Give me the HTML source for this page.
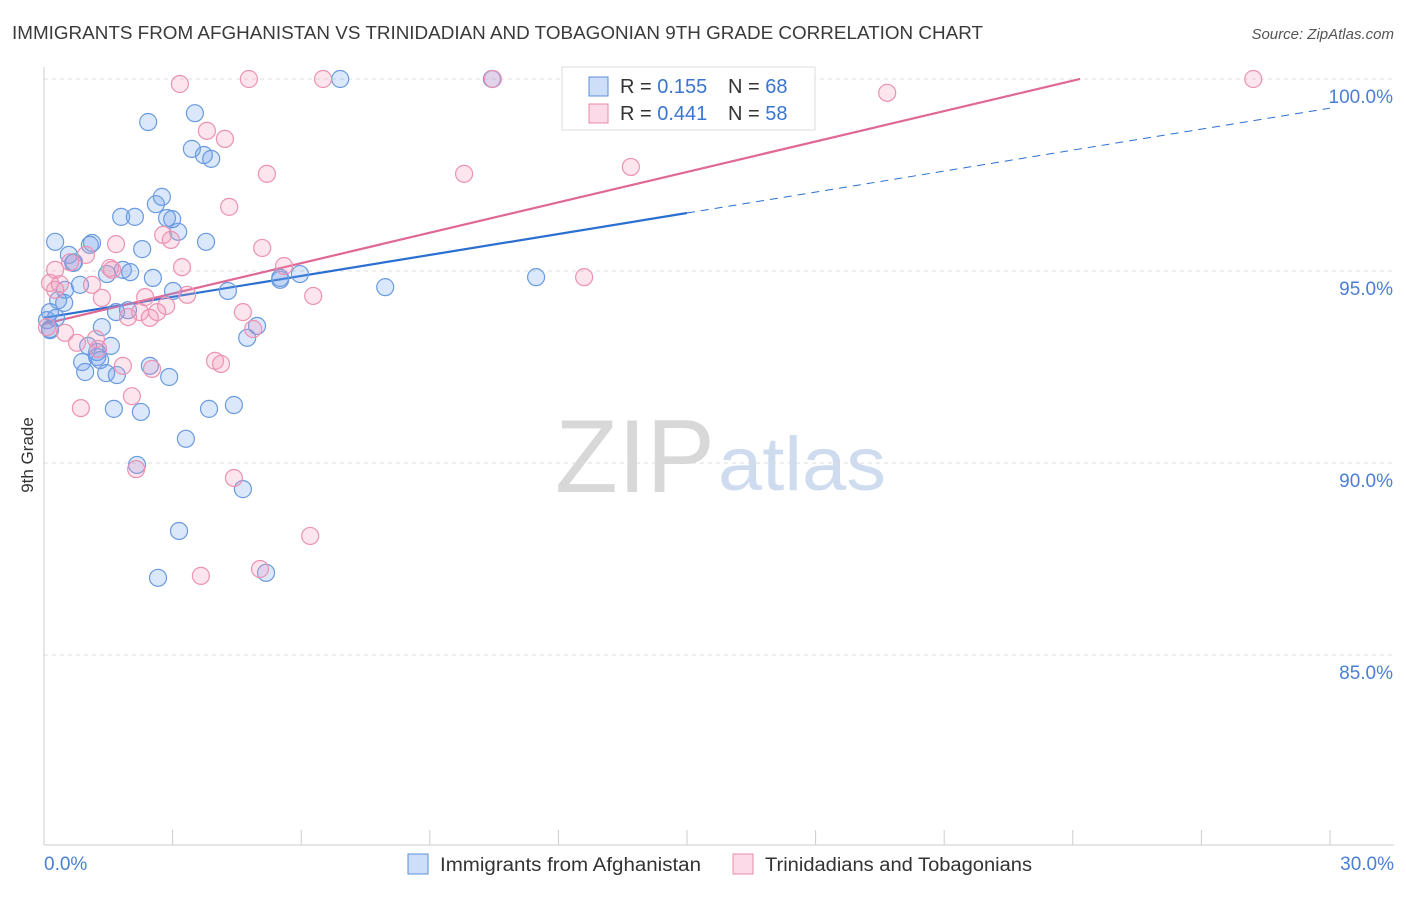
<!DOCTYPE html>
<html><head><meta charset="utf-8"><style>
body{margin:0;background:#fff;font-family:"Liberation Sans",sans-serif;}
svg text{font-family:"Liberation Sans",sans-serif;}
</style></head><body>
<svg id="chart" width="1406" height="892" viewBox="0 0 1406 892" xmlns="http://www.w3.org/2000/svg">
<text x="12" y="39" font-size="18" fill="#3a3a3a" textLength="971" lengthAdjust="spacingAndGlyphs">IMMIGRANTS FROM AFGHANISTAN VS TRINIDADIAN AND TOBAGONIAN 9TH GRADE CORRELATION CHART</text>
<text x="1394" y="39" font-size="15" fill="#555" text-anchor="end" font-style="italic">Source: ZipAtlas.com</text>
<g>
<text x="555" y="492" font-size="104" fill="#d8d8d8" font-family="Liberation Serif, serif" textLength="160" lengthAdjust="spacingAndGlyphs">ZIP</text>
<text x="718" y="490" font-size="76" fill="#cfdcf0" textLength="168" lengthAdjust="spacingAndGlyphs">atlas</text>
</g>
<g id="grid"></g>
<g id="axes"></g>
<g id="lines"></g>
<g id="points"></g>
<text transform="translate(33,455) rotate(-90)" font-size="17" fill="#333" text-anchor="middle">9th Grade</text>
<g>
<rect x="562" y="67" width="253" height="63" fill="#fff" stroke="#ddd"/>
<rect x="589" y="77" width="19" height="19" fill="rgba(110,160,235,0.35)" stroke="#5b8fd8"/>
<rect x="589" y="104" width="19" height="19" fill="rgba(245,150,185,0.35)" stroke="#e88aaa"/>
<text x="620" y="93" font-size="20" fill="#333">R = <tspan fill="#3a75d0">0.155</tspan><tspan x="728">N = </tspan><tspan fill="#3a75d0">68</tspan></text>
<text x="620" y="120" font-size="20" fill="#333">R = <tspan fill="#3a75d0">0.441</tspan><tspan x="728">N = </tspan><tspan fill="#3a75d0">58</tspan></text>
</g>
<g>
<rect x="408" y="854" width="20" height="20" fill="rgba(110,160,235,0.35)" stroke="#5b8fd8"/>
<text x="440" y="871" font-size="19" fill="#333" textLength="261" lengthAdjust="spacingAndGlyphs">Immigrants from Afghanistan</text>
<rect x="733" y="854" width="20" height="20" fill="rgba(245,150,185,0.35)" stroke="#e88aaa"/>
<text x="765" y="871" font-size="19" fill="#333" textLength="267" lengthAdjust="spacingAndGlyphs">Trinidadians and Tobagonians</text>
</g>
</svg>
<script>
const yTicks=[85,90,95,100];
const yTickLabels=["85.0%","90.0%","95.0%","100.0%"];
const xTickLabels=["0.0%","30.0%"];
const blueX=[6.91,10.45,2.43,3.52,3.45,3.73,3.90,2.75,2.61,1.80,2.12,2.87,2.99,3.13,0.26,1.12,1.07,2.29,3.78,0.58,0.70,0.68,2.54,1.84,1.47,0.84,0.49,0.33,0.47,0.14,0.07,0.14,1.35,1.68,1.96,3.01,4.29,5.97,5.51,7.96,11.48,4.97,4.74,1.03,1.56,1.24,1.24,0.89,0.96,1.45,1.70,2.47,2.92,1.63,2.26,3.85,4.43,3.31,2.17,4.64,3.15,2.66,5.18,0.14,1.31,0.28,2.01,5.51];
const blueY=[100,100,98.88,99.11,98.18,98.02,97.92,96.93,96.74,96.41,96.41,96.38,96.35,96.02,95.76,95.73,95.68,95.57,95.76,95.42,95.23,95.21,94.82,95.03,94.92,94.64,94.51,94.24,94.17,93.93,93.72,93.49,93.54,93.93,93.98,94.48,94.48,94.92,94.77,94.58,94.84,93.57,93.26,93.05,93.05,92.89,92.76,92.63,92.37,92.34,92.29,92.53,92.24,91.41,91.33,91.41,91.51,90.63,89.95,89.32,88.23,87.01,87.14,93.46,92.68,93.78,94.97,94.82];
const pinkX=[3.17,4.78,6.51,10.47,28.21,19.67,3.80,4.22,5.20,9.80,13.69,4.32,2.78,2.96,1.68,5.09,0.61,0.98,0.26,1.54,3.22,5.60,12.60,0.14,0.37,1.12,2.36,1.35,3.34,6.28,2.85,2.24,2.64,1.96,2.47,4.64,4.88,0.49,0.77,1.21,1.26,3.99,4.13,1.84,2.52,2.05,0.86,2.15,4.43,6.21,3.66,5.04,0.07,1.59,0.26];
const pinkY=[99.87,100,100,100,100,99.64,98.65,98.44,97.53,97.53,97.71,96.67,95.94,95.81,95.70,95.60,95.23,95.42,95.03,95.08,95.10,95.13,94.84,94.69,94.66,94.64,94.32,94.30,94.38,94.35,94.09,93.93,93.93,93.80,93.78,93.93,93.49,93.39,93.13,93.23,92.97,92.66,92.58,92.53,92.45,91.74,91.43,89.84,89.61,88.10,87.06,87.24,93.54,95.03,94.51];
const blueTrend=[93.78,0.182];
const blueSolidEnd=15;
const pinkTrend=[93.62,0.264];
const pinkEnd=24.17;

const NS="http://www.w3.org/2000/svg";
const X0=44,X1=1330,Y100=79,PX_PER_PCT=38.4;
function sx(v){return X0+(v/30)*(X1-X0);}
function sy(v){return Y100+(100-v)*PX_PER_PCT;}
function mk(tag,attrs,parent){const e=document.createElementNS(NS,tag);for(const k in attrs)e.setAttribute(k,attrs[k]);parent.appendChild(e);return e;}
const grid=document.getElementById('grid'),axes=document.getElementById('axes'),lines=document.getElementById('lines'),pts=document.getElementById('points');
yTicks.forEach((t,i)=>{
  const l=mk('line',{x1:X0,x2:1394,y1:sy(t),y2:sy(t),stroke:'#dcdcdc','stroke-dasharray':'4,4'},grid);
  
  
  const tx=mk('text',{x:1393,y:sy(t)+24,'font-size':19,fill:'#4a7fd4','text-anchor':'end'},grid);
  tx.textContent=yTickLabels[i];
  
  
});
const ya=mk('line',{x1:X0,x2:X0,y1:67,y2:845,stroke:'#ccc'},axes);


const xa=mk('line',{x1:X0,x2:1394,y1:845,y2:845,stroke:'#ccc'},axes);


for(let i=0;i<=10;i++){
  const t=mk('line',{x1:sx(i*3),x2:sx(i*3),y1:830,y2:845,stroke:'#ccc'},axes);
  
  
}
[[0,'start',44],[30,'end',1394]].forEach((a,i)=>{
  const tx=mk('text',{x:a[2],y:870,'font-size':19,fill:'#4a7fd4','text-anchor':a[1]},axes);
  tx.textContent=xTickLabels[i];
  
  
});
function dots(xs,ys,fill,stroke,name){
  xs.forEach((v,i)=>{
    const c=mk('circle',{cx:sx(v),cy:sy(ys[i]),r:8.5,fill:fill,stroke:stroke,'stroke-width':1.2},pts);
    
    
  });
}
dots(blueX,blueY,'rgba(110,160,235,0.25)','#6a9be0','afghanistan-point');
dots(pinkX,pinkY,'rgba(245,150,185,0.25)','#ec92b2','trinidad-point');
const b1=mk('line',{x1:sx(0),y1:sy(blueTrend[0]),x2:sx(blueSolidEnd),y2:sy(blueTrend[0]+blueTrend[1]*blueSolidEnd),stroke:'#2b6fd0','stroke-width':2.2},lines);


const b2=mk('line',{x1:sx(blueSolidEnd),y1:sy(blueTrend[0]+blueTrend[1]*blueSolidEnd),x2:sx(30),y2:sy(blueTrend[0]+blueTrend[1]*30),stroke:'#2b6fd0','stroke-width':1,'stroke-dasharray':'8,6'},lines);


const p1=mk('line',{x1:sx(0),y1:sy(pinkTrend[0]),x2:sx(pinkEnd),y2:sy(pinkTrend[0]+pinkTrend[1]*pinkEnd),stroke:'#e06895','stroke-width':2.2},lines);


</script>
</body></html>
